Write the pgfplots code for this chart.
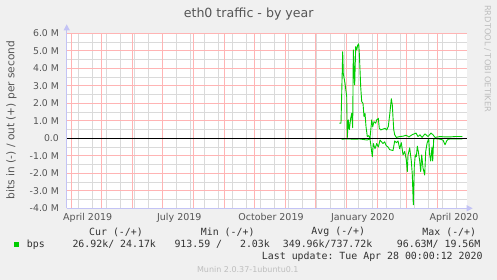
\documentclass[border=0pt]{standalone}
\usepackage{pgfplots}
\pgfplotsset{compat=1.18}
\usepackage{pgfplotstable}
\usepackage{fontspec}
\setmainfont{DejaVu Sans}
\newfontfamily\monofont{DejaVu Sans Mono}
\usetikzlibrary{arrows.meta}
\definecolor{bg}{RGB}{240,240,240}
\definecolor{majgrid}{RGB}{255,180,180}
\definecolor{mingrid}{RGB}{218,218,218}
\definecolor{axiscol}{RGB}{195,195,245}
\definecolor{txt}{RGB}{85,85,85}
\definecolor{leg}{RGB}{50,50,50}
\definecolor{faint}{RGB}{190,190,190}
\definecolor{bpsgreen}{RGB}{0,204,0}

\pgfplotstableread{
x y
272.6 0.86
274.3 0.87
276.0 4.95
276.6 3.70
278.3 3.14
280.0 2.38
280.6 0.05
281.6 1.05
282.6 0.50
284.0 1.14
285.0 1.43
286.0 0.60
286.6 5.05
288.0 3.05
289.0 5.24
290.0 5.05
291.0 5.33
292.0 5.40
292.6 4.86
294.0 2.95
295.0 2.10
296.3 2.00
297.3 1.24
298.3 1.43
299.3 0.67
300.6 0.10
302.0 0.15
303.3 0.00
305.0 1.05
306.0 0.67
307.3 0.95
309.0 0.86
310.0 1.05
311.6 1.14
312.6 0.57
314.0 0.48
316.0 0.52
318.3 0.57
320.0 0.48
321.6 0.67
323.0 1.35
324.6 2.26
325.6 1.90
327.0 0.50
328.0 0.20
329.6 0.05
333.3 0.10
336.3 0.12
339.3 0.17
342.3 0.08
345.3 0.20
349.3 0.30
351.3 0.10
353.3 0.20
355.3 0.05
358.3 0.25
361.3 0.10
364.3 0.30
366.3 0.20
368.3 0.05
373.3 0.10
378.3 0.08
383.3 0.08
388.3 0.10
395.6 0.10
}\outdata

\pgfplotstableread{
x y
275.0 -0.05
280.3 -0.03
286.3 -0.05
293.3 -0.04
300.6 -0.10
303.3 -0.03
305.6 -1.05
306.6 -0.30
308.3 -0.60
310.0 -0.30
311.6 -0.50
313.3 -0.10
316.3 -0.30
318.0 -0.20
319.3 -0.40
321.3 -0.50
323.0 -0.65
326.3 -0.70
328.0 -0.15
329.6 -0.25
331.3 -0.15
333.0 -0.60
334.6 -0.25
336.3 -0.94
338.0 -0.75
339.6 -1.23
340.6 -1.90
341.3 -0.95
343.0 -0.55
344.6 -1.30
345.6 -2.08
346.6 -3.80
347.6 -1.60
348.6 -0.95
349.6 -1.05
350.6 -0.45
351.6 -0.75
353.0 -1.30
354.0 -1.90
355.0 -0.95
356.3 -1.70
358.0 -2.10
359.0 -0.75
360.3 -0.30
362.0 0.00
363.0 -0.95
364.0 -1.30
365.3 -0.50
366.0 -1.30
367.0 -0.05
368.3 -0.02
373.3 -0.05
376.3 -0.10
378.3 -0.37
380.0 -0.15
381.6 -0.05
385.3 -0.03
395.6 -0.03
}\indata

\begin{document}
\begin{tikzpicture}
\fill[bg] (0pt,0pt) rectangle (497pt,280pt);
\useasboundingbox (0pt,0pt) rectangle (497pt,280pt);
\fill[white] (66.7pt,71.7pt) rectangle (466.7pt,246.7pt);
% minor grid (two-weekly, half-million)
\foreach \k in {0,...,27} {
  \draw[mingrid, line width=0.8pt] ({78.3pt+14pt*\k},71.7pt) -- ({78.3pt+14pt*\k},246.7pt);
}
\foreach \j in {0,...,9} {
  \draw[mingrid, line width=0.8pt] (66.7pt,{80.45pt+17.5pt*\j}) -- (466.7pt,{80.45pt+17.5pt*\j});
}
% major grid (months, millions)
\foreach \d in {5,35,66,96,127,158,188,219,249,280,311,340,371} {
  \draw[majgrid, line width=0.8pt] ({66.7pt+\d pt},71.7pt) -- ({66.7pt+\d pt},246.7pt);
}
\foreach \j in {0,...,10} {
  \draw[majgrid, line width=0.8pt] (66.7pt,{71.7pt+17.5pt*\j}) -- (466.7pt,{71.7pt+17.5pt*\j});
}
\begin{axis}[
  name=ax,
  at={(66.7pt,71.7pt)}, anchor=south west,
  scale only axis, width=400pt, height=175pt,
  xmin=0, xmax=400, ymin=-4, ymax=6,
  clip=false,
  axis line style={draw=none},
  major tick length=0pt, minor tick length=0pt,
  xtick=\empty,
  ytick={-4,-3,-2,-1,0,1,2,3,4,5,6},
  yticklabels={-4.0 M,-3.0 M,-2.0 M,-1.0 M,0.0\hspace{6pt},1.0 M,2.0 M,3.0 M,4.0 M,5.0 M,6.0 M},
  yticklabel style={font=\fontsize{9.3}{11}\selectfont, text=txt, anchor=east, xshift=-4.3pt},
]
\addplot[bpsgreen, line width=0.9pt, line join=round] table[x=x,y=y] {\outdata};
\addplot[bpsgreen, line width=0.9pt, line join=round] table[x=x,y=y] {\indata};
\addplot[black, line width=1.2pt] coordinates {(0,0) (400,0)};
\begin{scope}[every node/.style={font=\fontsize{9.5}{11}\selectfont, text=txt, anchor=base, inner sep=0pt}]
\node at ([yshift=-12.4pt]axis cs:21,-4) {April 2019};
\node at ([yshift=-12.4pt]axis cs:112.6,-4) {July 2019};
\node at ([yshift=-12.4pt]axis cs:204.3,-4) {October 2019};
\node at ([yshift=-12.4pt]axis cs:296,-4) {January 2020};
\node at ([yshift=-12.4pt]axis cs:387.3,-4) {April 2020};
\end{scope}
\end{axis}
\draw[axiscol, line width=0.8pt, -{Triangle[length=6pt,width=6pt]}] (ax.south west) -- ([yshift=9pt]ax.north west);
\draw[axiscol, line width=0.8pt, -{Triangle[length=6pt,width=6pt]}] (ax.south west) -- ([xshift=6pt]ax.south east);
% title and labels
\node[text=txt, font=\fontsize{12.6}{14}\selectfont] at (248.7pt,266pt) {eth0 traffic - by year};
\node[text=txt, font=\fontsize{10.6}{12}\selectfont, rotate=90] at (11.5pt,160pt) {bits in (-) / out (+) per second};
\node[text=faint, font=\fontsize{8.3}{10}\selectfont, rotate=-90, anchor=west, inner sep=0pt] at (487.5pt,275pt) {RRDTOOL / TOBI OETIKER};
% legend
\begin{scope}[every node/.style={font=\monofont\fontsize{9.9}{11}\selectfont, text=leg, inner sep=0pt}]
\node at (116pt,47.7pt) {Cur (-/+)};
\node at (227.7pt,47.7pt) {Min (-/+)};
\node at (338.3pt,47.7pt) {Avg (-/+)};
\node at (449.3pt,47.7pt) {Max (-/+)};
\node[anchor=west] at (26.7pt,35.7pt) {bps};
\node[anchor=west] at (72.3pt,35.7pt) {26.92k/~24.17k};
\node[anchor=west] at (174.3pt,35.7pt) {913.59~/~~~2.03k};
\node[anchor=west] at (282.7pt,35.7pt) {349.96k/737.72k};
\node[anchor=west] at (396.7pt,35.7pt) {96.63M/~19.56M};
\node[anchor=east] at (482.7pt,23.3pt) {Last update:~Tue Apr 28 00:00:12 2020};
\end{scope}
\fill[bpsgreen] (14pt,33.3pt) rectangle (19pt,38.3pt);
\node[text=faint, font=\fontsize{8}{10}\selectfont] at (247.8pt,10.7pt) {Munin 2.0.37-1ubuntu0.1};
\end{tikzpicture}
\end{document}
